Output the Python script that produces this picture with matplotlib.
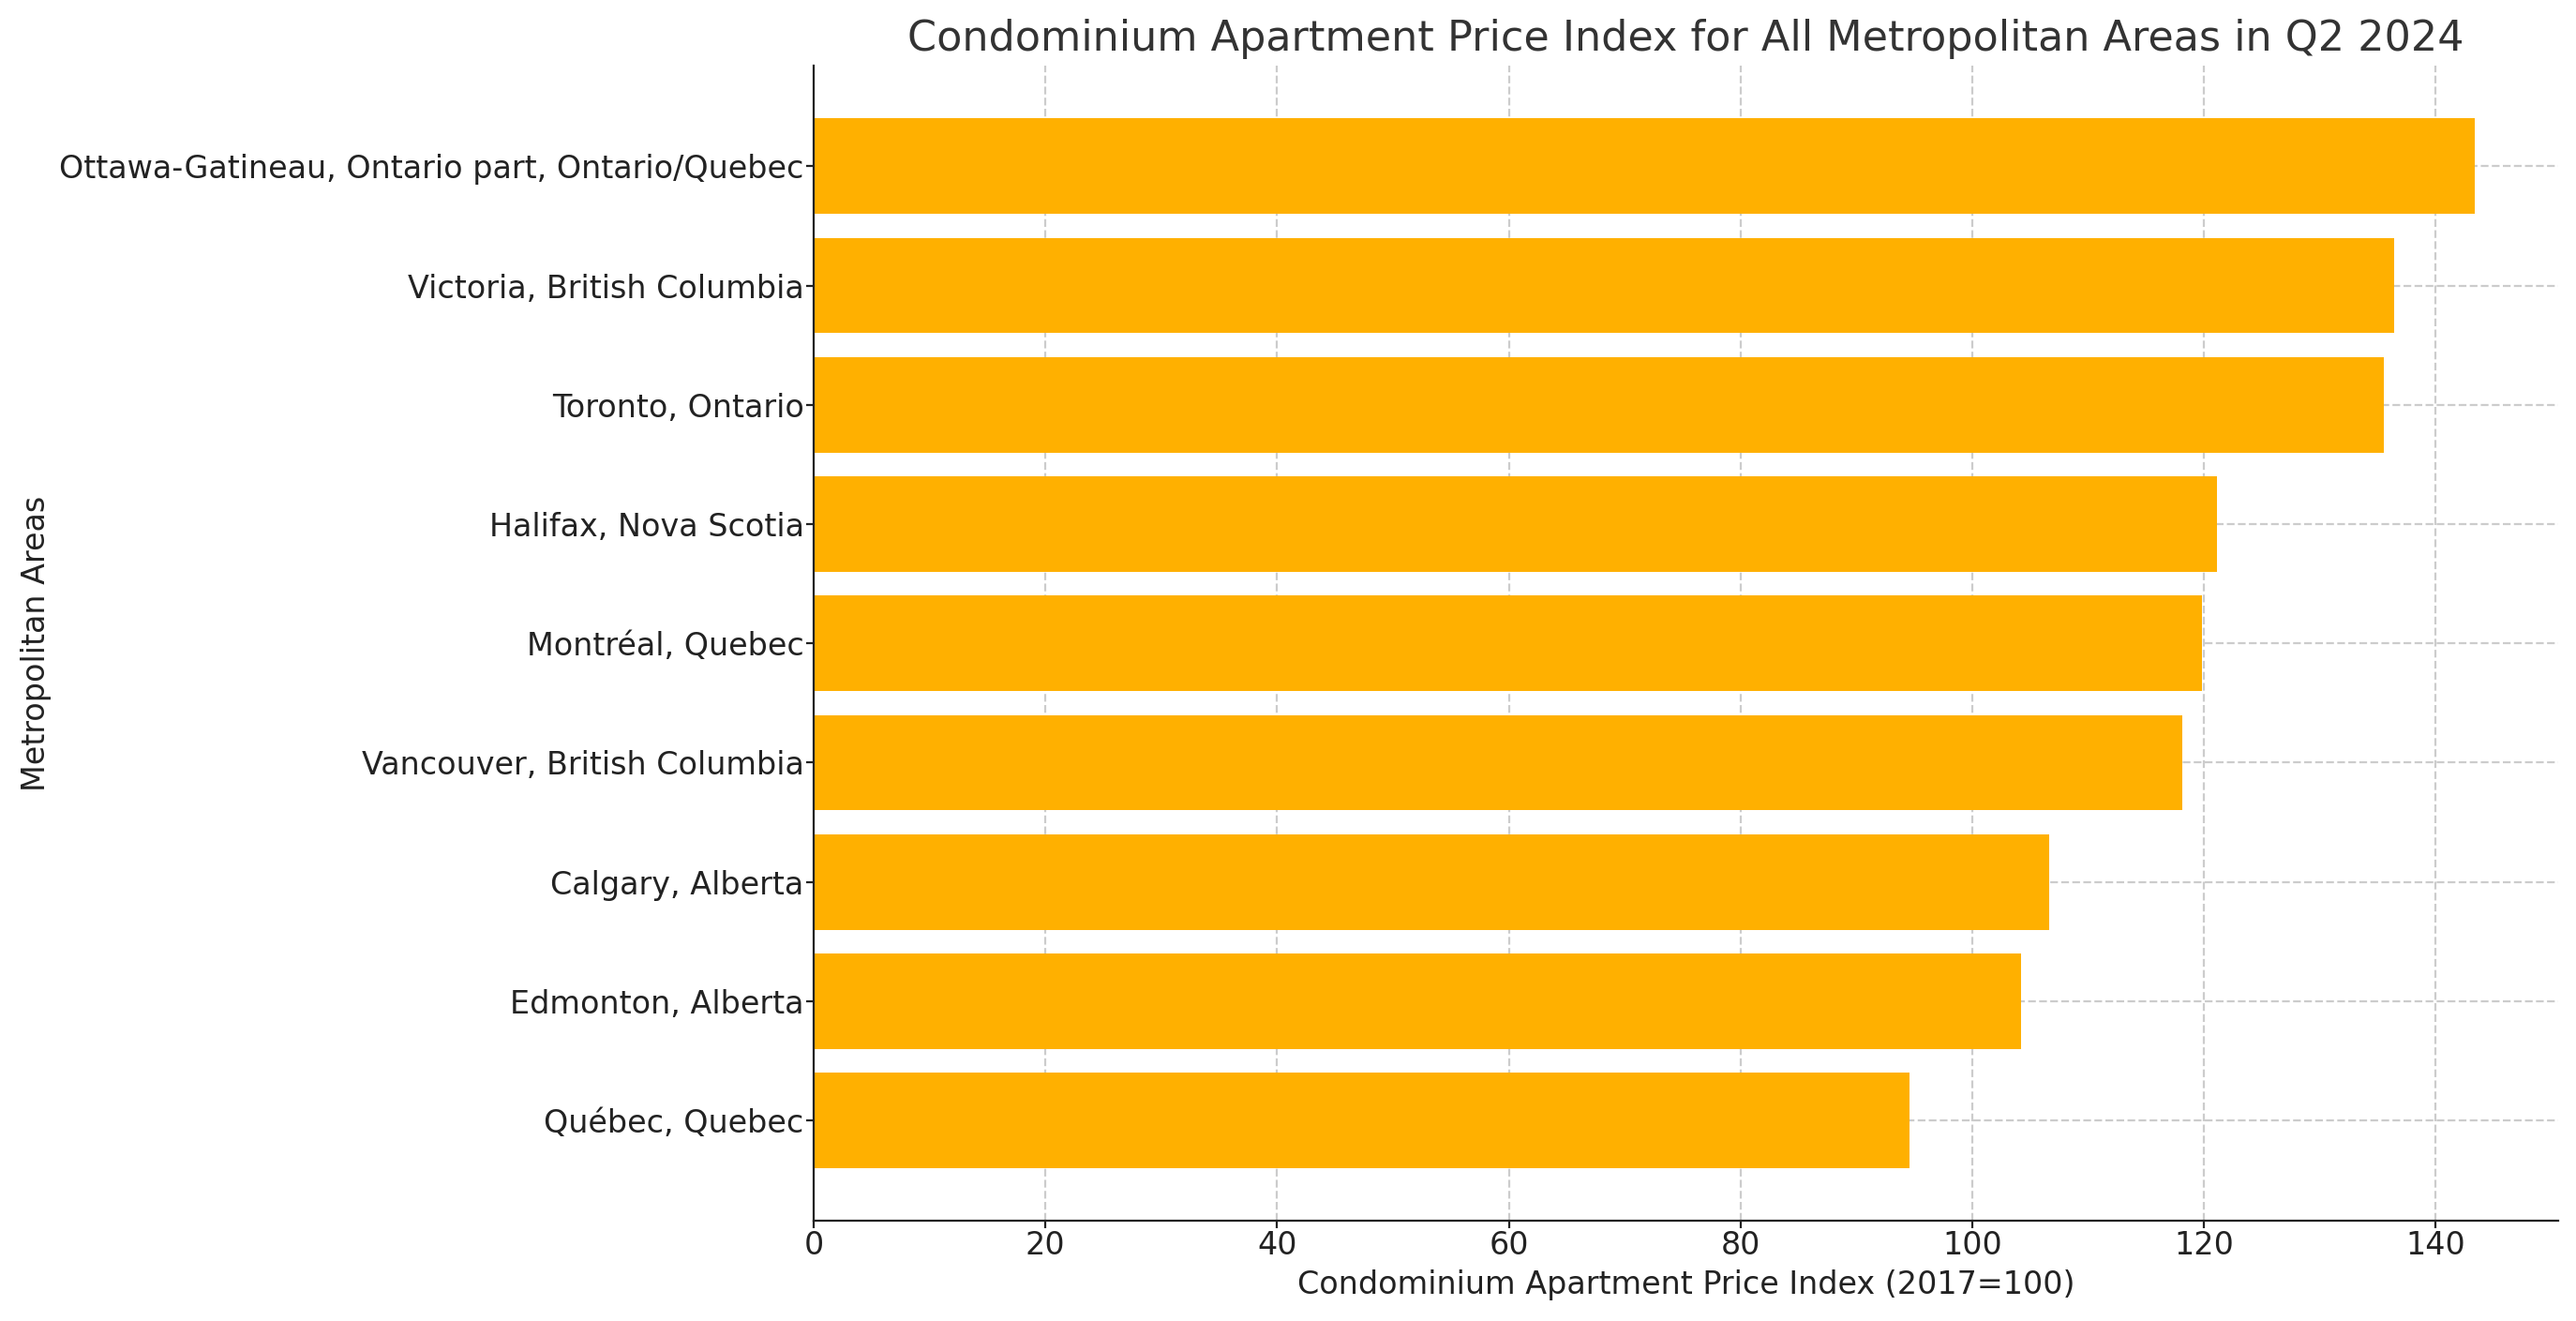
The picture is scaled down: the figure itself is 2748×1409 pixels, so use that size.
import matplotlib.pyplot as plt

# Condominium apartment price index, Q2 2024 (2017=100)
areas = ['Ottawa-Gatineau, Ontario part, Ontario/Quebec', 'Victoria, British Columbia',
         'Toronto, Ontario', 'Halifax, Nova Scotia', 'Montréal, Quebec',
         'Vancouver, British Columbia', 'Calgary, Alberta', 'Edmonton, Alberta',
         'Québec, Quebec']
index_values = [143.4, 136.4, 135.5, 121.1, 119.8, 118.1, 106.6, 104.2, 94.6]

dark = '#222222'

fig = plt.figure(figsize=(13.74, 7.045), dpi=200)
ax = fig.add_axes([0.3159, 0.076, 0.6772, 0.874])

ax.barh(areas, index_values, color='#FFB000', height=0.8, zorder=2)
ax.invert_yaxis()

ax.set_title('Condominium Apartment Price Index for All Metropolitan Areas in Q2 2024',
             fontsize=16, color='#333333')
ax.set_xlabel('Condominium Apartment Price Index (2017=100)', fontsize=12, color=dark, labelpad=3)
ax.set_ylabel('Metropolitan Areas', fontsize=12, color=dark, labelpad=3)
ax.tick_params(labelsize=12, colors=dark, length=3, pad=0.8)

ax.grid(True, linestyle='--', color='#cccccc', linewidth=0.8, zorder=0)
ax.spines['top'].set_visible(False)
ax.spines['right'].set_visible(False)
ax.spines['left'].set_color(dark)
ax.spines['bottom'].set_color(dark)

fig.savefig('out.png', dpi=200)
